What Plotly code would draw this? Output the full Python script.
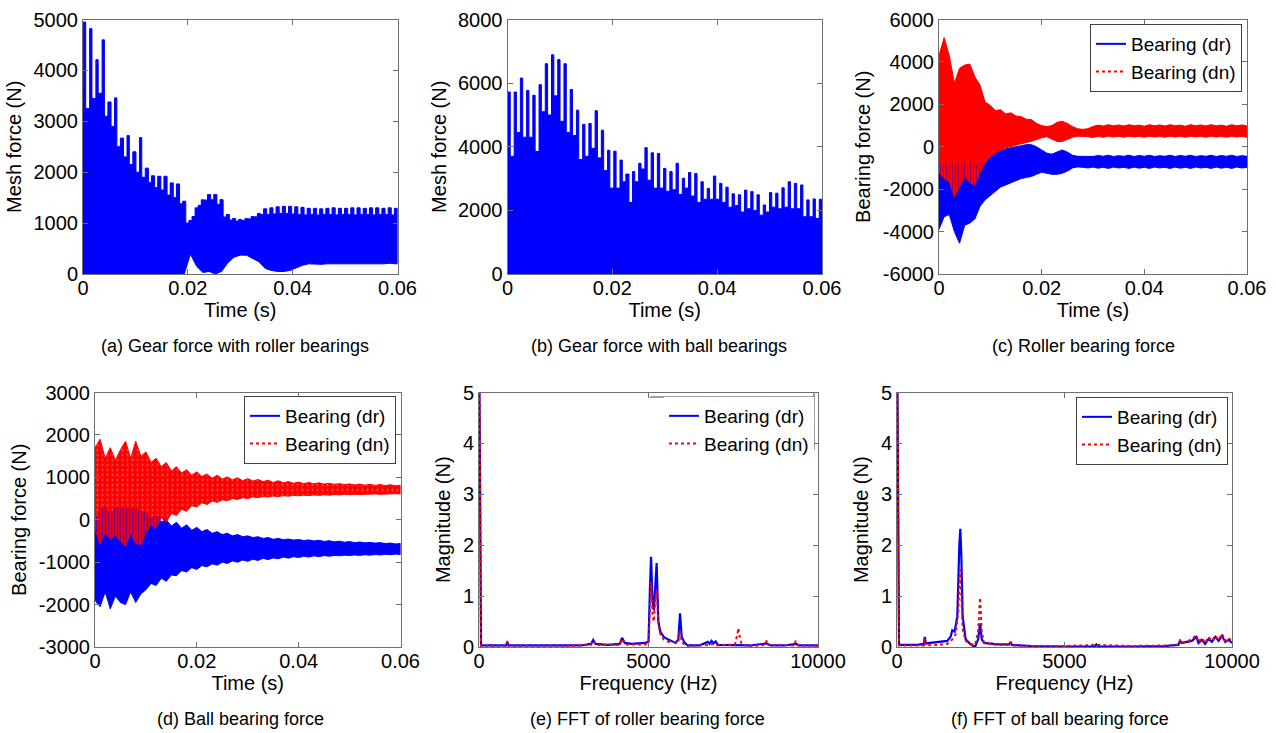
import numpy as np
import plotly.graph_objects as go

W, H = 1276, 733
BLUE = "#0000FF"
RED = "#FF0000"
AX = "#6f6f6f"
FONT = "Liberation Sans, Arial, sans-serif"
T_END = 0.06

# ---------------- gear mesh force (one spike per tooth-pass period) ----------------
SPIKE_T0 = 0.0003      # s, first spike
SPIKE_DT = 0.001188    # s, spike period
NEEDLE_HALF = 0.00022  # s, half width of a tall spike
TOOTH_HALF = 0.0003    # s, half width of a low-amplitude tooth

# (a) roller bearings: spike tops, fill level just before each spike, lower edge
a_peak = [4950, 4820, 4210, 4600, 3380, 3460, 2670, 2720, 2400, 2680,
          2080, 1930, 1920, 1920, 1790, 1770, 1430, 1050, 1300, 1460,
          1560, 1560, 1460, 1170, 1090, 1070, 1090, 1130, 1190, 1280,
          1300, 1320, 1330, 1330, 1320, 1310, 1290, 1290, 1280, 1290,
          1300, 1290, 1290, 1300, 1300, 1290, 1300, 1300, 1290, 1300,
          1290]
a_base = [3650, 3250, 3450, 3550, 3100, 2900, 2500, 2300, 2150, 2000,
          1900, 1800, 1700, 1650, 1550, 1500, 1380, 1000, 1130, 1350,
          1450, 1460, 1370, 1120, 1060, 1040, 1050, 1080, 1120, 1170,
          1170, 1180, 1190, 1190, 1180, 1170, 1160, 1170, 1160, 1170,
          1170, 1160, 1170, 1170, 1160, 1170, 1170, 1160, 1170, 1170,
          1160]
a_low = [0, 0, 0, 0, 0, 0, 0, 0, 0, 0,
         0, 0, 0, 0, 0, 0, 0, 390, 150, 30,
         50, 0, 50, 220, 330, 370, 370, 310, 240, 110,
         70, 50, 50, 70, 120, 170, 200, 200, 190, 200,
         210, 200, 200, 210, 200, 200, 210, 200, 200, 210,
         200]
a_end_hi, a_end_lo = 1170, 200

# (b) ball bearings
b_peak = [5720, 5720, 6160, 5770, 5620, 5950, 6610, 6890, 6740, 6610,
          5800, 5150, 4700, 4730, 5130, 4520, 3890, 3860, 3580, 3140,
          3220, 3480, 3970, 3810, 3790, 3320, 3220, 3480, 3010, 3190,
          3160, 2900, 2690, 3080, 2850, 2730, 2520, 2490, 2640, 2590,
          2490, 2170, 2560, 2540, 2710, 2900, 2850, 2800, 2330, 2360,
          2350]
b_base = [4900, 3700, 4450, 4300, 4300, 3850, 5100, 5000, 5600, 4800,
          4450, 4350, 3600, 3700, 3950, 3650, 3250, 2700, 2700, 2900,
          2250, 2900, 3300, 2950, 2700, 2700, 2600, 2650, 2500, 2700,
          2450, 2250, 2350, 2350, 2350, 2250, 2100, 2150, 1950, 2050,
          2000, 1850, 1950, 2100, 2050, 2100, 2050, 2050, 1800, 1800,
          1750]
b_low = [0] * len(b_peak)
b_end_hi, b_end_lo = 1550, 0

# ---------------- bearing force envelopes, sampled every 1 ms ----------------
ENV_DT = 0.001
# (c) roller bearings
c_dr_hi = [-800, -800, -800, -800, -800, -800, -800, -800, -900, -800,
           -400, -300, -200, -100, -50, 0, 50, 100, 100, 0,
           -150, -300, -350, -250, -150, -250, -400, -450, -450, -430,
           -460, -410, -450, -400, -460, -420, -450, -400, -460, -410,
           -450, -400, -460, -420, -450, -400, -460, -410, -450, -400,
           -460, -420, -450, -400, -460, -410, -450, -400, -460, -420,
           -450]
c_dr_lo = [-3900, -3300, -3200, -4000, -4550, -3700, -3600, -3400, -2800, -2500,
           -2300, -2100, -1900, -1800, -1700, -1600, -1500, -1450, -1400, -1300,
           -1200, -1250, -1300, -1300, -1250, -1150, -1000, -950, -970, -1000,
           -960, -1010, -970, -1020, -960, -1000, -970, -1020, -960, -1010,
           -970, -1020, -960, -1000, -970, -1020, -960, -1010, -970, -1020,
           -960, -1000, -970, -1020, -960, -1010, -970, -1020, -960, -1000,
           -970]
c_dn_hi = [4300, 5150, 4300, 3000, 3700, 3850, 3900, 3300, 2900, 2100,
           1950, 1700, 1750, 1550, 1600, 1450, 1420, 1300, 1280, 1100,
           1000, 950, 1000, 1150, 1200, 1100, 950, 850, 820, 850,
           960, 1020, 980, 1040, 990, 1030, 980, 1040, 990, 1020,
           970, 1040, 990, 1030, 980, 1040, 990, 1020, 970, 1040,
           990, 1030, 980, 1040, 990, 1020, 970, 1040, 990, 1030,
           980]
c_dn_lo = [-1200, -1500, -1650, -2350, -1900, -1400, -1700, -1800, -1200, -750,
           -450, -300, -150, -50, 0, 80, 150, 200, 260, 330,
           420, 470, 350, 250, 250, 350, 450, 500, 480, 470,
           440, 490, 450, 500, 460, 490, 450, 500, 460, 490,
           450, 500, 460, 490, 450, 500, 460, 490, 450, 500,
           460, 490, 450, 500, 460, 490, 450, 500, 460, 490,
           450]
# (d) ball bearings
d_dr_hi = [0, 250, 320, 150, 300, 280, 300, 250, 280, 200,
           180, 50, 100, -50, 0, -150, -60, -200, -120, -250,
           -180, -280, -230, -320, -280, -350, -320, -380, -350, -400,
           -380, -420, -400, -440, -420, -460, -440, -470, -455, -480,
           -465, -490, -475, -500, -485, -510, -495, -520, -505, -530,
           -515, -540, -525, -545, -535, -550, -540, -560, -550, -570,
           -560]
d_dr_lo = [-1900, -2050, -1700, -2100, -1800, -1950, -2000, -1700, -1950, -1750,
           -1650, -1500, -1550, -1380, -1450, -1300, -1320, -1200, -1230, -1130,
           -1170, -1080, -1110, -1040, -1070, -1000, -1030, -970, -1000, -950,
           -980, -930, -960, -910, -940, -900, -920, -880, -905, -870,
           -890, -860, -880, -850, -870, -845, -860, -840, -850, -835,
           -845, -830, -840, -825, -835, -820, -830, -815, -825, -810,
           -820]
d_dn_hi = [1700, 1900, 1450, 1700, 1400, 1650, 1850, 1450, 1850, 1500,
           1600, 1350, 1450, 1250, 1350, 1150, 1250, 1100, 1180, 1050,
           1130, 1020, 1080, 980, 1050, 960, 1010, 940, 990, 920,
           970, 910, 950, 900, 930, 880, 920, 870, 900, 860,
           890, 850, 880, 845, 870, 840, 860, 835, 850, 830,
           845, 820, 840, 815, 835, 810, 830, 805, 825, 800,
           815]
d_dn_lo = [-200, -580, -300, -450, -350, -500, -620, -300, -560, -580,
           -300, -100, -200, 50, -50, 150, 100, 250, 200, 330,
           300, 400, 360, 440, 410, 470, 450, 500, 480, 520,
           500, 540, 520, 550, 535, 560, 545, 570, 555, 575,
           565, 580, 570, 585, 575, 590, 580, 595, 585, 600,
           590, 600, 595, 605, 600, 610, 600, 610, 605, 615,
           610]

# ---------------- FFT spectra (Hz, N) ----------------
e_dr_f = [0, 15, 60, 800, 835, 870, 1700, 3000, 3300, 3370, 3440, 3800, 4150, 4220,
          4300, 4500, 4900, 5000, 5040, 5075, 5120, 5160, 5200, 5240, 5290, 5350,
          5450, 5600, 5800, 5880, 5930, 5980, 6050, 6150, 6500, 6750, 6800, 6860,
          6920, 6980, 7050, 7500, 8000, 8480, 8600, 9000, 9360, 9450, 10000]
e_dr_m = [5.0, 5.0, 0.03, 0.03, 0.10, 0.03, 0.03, 0.03, 0.06, 0.14, 0.06, 0.04, 0.06, 0.18,
          0.08, 0.06, 0.08, 0.10, 1.10, 1.77, 0.90, 0.72, 1.20, 1.65, 0.50, 0.30,
          0.20, 0.14, 0.08, 0.15, 0.66, 0.20, 0.10, 0.03, 0.03, 0.10, 0.06, 0.12,
          0.07, 0.11, 0.04, 0.03, 0.03, 0.07, 0.03, 0.03, 0.06, 0.03, 0.03]
e_dn_f = [0, 15, 60, 800, 835, 870, 2500, 2540, 2580, 3300, 3370, 3440, 4150, 4220,
          4300, 4900, 5000, 5040, 5080, 5120, 5160, 5200, 5240, 5290, 5350, 5450,
          5600, 5880, 5930, 5980, 6100, 6800, 6900, 7000, 7550, 7620, 7650, 7690,
          7750, 8000, 8450, 8490, 8550, 9300, 9340, 9400, 10000]
e_dn_m = [5.0, 5.0, 0.02, 0.02, 0.12, 0.02, 0.02, 0.04, 0.02, 0.04, 0.12, 0.04, 0.04, 0.16,
          0.05, 0.05, 0.08, 0.80, 1.28, 0.60, 0.50, 0.90, 1.12, 0.45, 0.25, 0.15,
          0.10, 0.10, 0.33, 0.10, 0.02, 0.04, 0.06, 0.03, 0.05, 0.25, 0.37, 0.20,
          0.04, 0.02, 0.04, 0.13, 0.04, 0.03, 0.12, 0.03, 0.02]

f_dr_f = [0, 15, 60, 600, 800, 830, 860, 1000, 1300, 1500, 1600, 1650, 1720, 1800,
          1860, 1890, 1920, 1960, 2050, 2200, 2330, 2420, 2480, 2530, 2600, 3000,
          3350, 3390, 3430, 4000, 5000, 5900, 5950, 6000, 7000, 8000, 8400, 8450,
          8500, 8700, 8800, 8940, 9000, 9100, 9200, 9300, 9400, 9500, 9600, 9700,
          9800, 9900, 10000]
f_dr_m = [5.0, 5.0, 0.04, 0.04, 0.06, 0.20, 0.07, 0.08, 0.10, 0.12, 0.20, 0.33, 0.30, 0.60,
          2.00, 2.32, 1.80, 0.60, 0.15, 0.05, 0.00, 0.15, 0.46, 0.15, 0.08, 0.05,
          0.05, 0.10, 0.04, 0.02, 0.01, 0.01, 0.05, 0.01, 0.01, 0.02, 0.04, 0.12,
          0.08, 0.10, 0.12, 0.20, 0.08, 0.14, 0.06, 0.16, 0.10, 0.20, 0.12, 0.22,
          0.10, 0.14, 0.08]
f_dn_f = [0, 15, 60, 600, 800, 830, 860, 1200, 1500, 1650, 1750, 1830, 1880, 1920,
          1960, 2050, 2200, 2330, 2420, 2480, 2530, 2600, 3000, 3360, 3400, 3440,
          4000, 5000, 5950, 7000, 8000, 8400, 8450, 8500, 8700, 8800, 8940, 9000,
          9100, 9200, 9300, 9400, 9500, 9600, 9700, 9800, 9900, 10000]
f_dn_m = [5.0, 5.0, 0.03, 0.03, 0.03, 0.16, 0.03, 0.04, 0.06, 0.15, 0.25, 0.70, 1.52, 1.00,
          0.35, 0.12, 0.06, 0.04, 0.30, 0.97, 0.30, 0.08, 0.04, 0.04, 0.10, 0.03,
          0.02, 0.02, 0.04, 0.02, 0.03, 0.05, 0.14, 0.08, 0.12, 0.16, 0.23, 0.10,
          0.18, 0.08, 0.20, 0.12, 0.22, 0.14, 0.26, 0.12, 0.18, 0.10]

# ---------------- tick labels ----------------
time_ticks = [0, 0.02, 0.04, 0.06]
time_text = ["0", "0.02", "0.04", "0.06"]
freq_ticks = [0, 5000, 10000]
freq_text = ["0", "5000", "10000"]
mag_ticks = [0, 1, 2, 3, 4, 5]


def spiky_band(base, peak, low, end_hi, end_lo):
    """Outline of a densely oscillating signal: spiky upper edge, plain lower edge."""
    t = SPIKE_T0 + SPIKE_DT * np.arange(len(peak))
    xs, ys = [0.0], [base[0]]
    for k in range(len(t)):
        nxt = base[k + 1] if k + 1 < len(t) else end_hi
        hw = NEEDLE_HALF if peak[k] - base[k] > 300 else TOOTH_HALF
        xs += [t[k] - hw, t[k] - hw, t[k] + hw, t[k] + hw]
        ys += [base[k], peak[k], peak[k], nxt]
    xs += [T_END, T_END]
    ys += [end_hi, end_lo]
    for k in reversed(range(len(t))):
        xs.append(t[k])
        ys.append(low[k])
    xs.append(0.0)
    ys.append(low[0])
    return xs, ys


def band(hi, lo):
    t = list(ENV_DT * np.arange(len(hi)))
    return t + t[::-1], list(hi) + list(lo)[::-1]


def overlap_band(hi1, lo1, hi2, lo2):
    """Region where two envelope bands overlap (collapsed to zero height elsewhere)."""
    lo = np.maximum(lo1, lo2)
    hi = np.maximum(np.minimum(hi1, hi2), lo)
    return band(hi, lo)


def px_x(a, b):
    return [a / W, b / W]


def px_y(top, bottom):
    return [1 - bottom / H, 1 - top / H]


fig = go.Figure()


def add_fill(xs, ys, color, ax, pattern=None):
    fig.add_trace(go.Scatter(x=xs, y=ys, mode="lines", fill="toself", fillcolor=color,
                             fillpattern=pattern,
                             line=dict(color=color, width=1),
                             showlegend=False, hoverinfo="skip",
                             xaxis="x" + ax, yaxis="y" + ax))


def add_interleave(xs, ys, ax, blue_share):
    # where both signals overlap, their dense oscillations interleave
    fig.add_trace(go.Scatter(x=xs, y=ys, mode="lines", fill="toself", fillcolor=RED,
                             fillpattern=dict(shape="|", fgcolor=BLUE, bgcolor=RED,
                                              size=3, solidity=blue_share),
                             line=dict(width=0), showlegend=False, hoverinfo="skip",
                             xaxis="x" + ax, yaxis="y" + ax))


# dotted red trace leaves small light gaps inside its band
DOTTED_RED = dict(shape=".", fgcolor="#ffd0d0", bgcolor=RED, size=5, solidity=0.12)

# (a)
add_fill(*spiky_band(a_base, a_peak, a_low, a_end_hi, a_end_lo), BLUE, "")
# (b)
add_fill(*spiky_band(b_base, b_peak, b_low, b_end_hi, b_end_lo), BLUE, "2")
# (c)
add_fill(*band(c_dr_hi, c_dr_lo), BLUE, "3")
add_fill(*band(c_dn_hi, c_dn_lo), RED, "3")
add_interleave(*overlap_band(c_dr_hi, c_dr_lo, c_dn_hi, c_dn_lo), "3", 0.3)
# (d)
add_fill(*band(d_dr_hi, d_dr_lo), BLUE, "4")
add_fill(*band(d_dn_hi, d_dn_lo), RED, "4", pattern=DOTTED_RED)
add_interleave(*overlap_band(d_dr_hi, d_dr_lo, d_dn_hi, d_dn_lo), "4", 0.5)
# (e), (f) spectra
for ax, fdr, mdr, fdn, mdn in [("5", e_dr_f, e_dr_m, e_dn_f, e_dn_m),
                               ("6", f_dr_f, f_dr_m, f_dn_f, f_dn_m)]:
    fig.add_trace(go.Scatter(x=fdr, y=mdr, mode="lines", line=dict(color=BLUE, width=2.2),
                             showlegend=False, hoverinfo="skip", xaxis="x" + ax, yaxis="y" + ax))
    fig.add_trace(go.Scatter(x=fdn, y=mdn, mode="lines", line=dict(color=RED, width=2, dash="dot"),
                             showlegend=False, hoverinfo="skip", xaxis="x" + ax, yaxis="y" + ax))

# legend entries for panels c-f
for ax, leg in [("3", "legend"), ("4", "legend2"), ("5", "legend3"), ("6", "legend4")]:
    fig.add_trace(go.Scatter(x=[None], y=[None], mode="lines", name="Bearing (dr)",
                             line=dict(color=BLUE, width=2), legend=leg,
                             xaxis="x" + ax, yaxis="y" + ax))
    fig.add_trace(go.Scatter(x=[None], y=[None], mode="lines", name="Bearing (dn)",
                             line=dict(color=RED, width=2, dash="dot"), legend=leg,
                             xaxis="x" + ax, yaxis="y" + ax))


def xaxis(domain, rng, tickvals, ticktext, anchor, title):
    return dict(domain=domain, range=rng, tickmode="array", tickvals=tickvals, ticktext=ticktext,
                showline=True, linecolor=AX, linewidth=1, mirror="ticks", ticks="inside",
                ticklen=5, tickcolor=AX, showgrid=False, zeroline=False, anchor=anchor,
                automargin=False, ticklabelstandoff=-4,
                tickfont=dict(family=FONT, size=20, color="black"),
                title=dict(text=title, font=dict(family=FONT, size=20, color="black"), standoff=2),
                fixedrange=True)


def yaxis(domain, rng, tickvals, ticktext, anchor, title):
    d = xaxis(domain, rng, tickvals, ticktext, anchor, title)
    d["ticklabelstandoff"] = 0
    d["title"]["standoff"] = 6
    return d


TOP_ROW = px_y(19.5, 274)
BOT_ROW = px_y(392.5, 647)

y_a = [0, 1000, 2000, 3000, 4000, 5000]
y_b = [0, 2000, 4000, 6000, 8000]
y_c = [-6000, -4000, -2000, 0, 2000, 4000, 6000]
y_d = [-3000, -2000, -1000, 0, 1000, 2000, 3000]

layout = dict(
    width=W, height=H, margin=dict(l=0, r=0, t=0, b=0, autoexpand=False),
    paper_bgcolor="white", plot_bgcolor="white", showlegend=True,
    xaxis=xaxis(px_x(83, 397.5), [0, T_END], time_ticks, time_text, "y", "Time (s)"),
    yaxis=yaxis(TOP_ROW, [0, 5000], y_a, [str(v) for v in y_a], "x", "Mesh force (N)"),
    xaxis2=xaxis(px_x(507.5, 822), [0, T_END], time_ticks, time_text, "y2", "Time (s)"),
    yaxis2=yaxis(TOP_ROW, [0, 8000], y_b, [str(v) for v in y_b], "x2", "Mesh force (N)"),
    xaxis3=xaxis(px_x(939, 1247), [0, T_END], time_ticks, time_text, "y3", "Time (s)"),
    yaxis3=yaxis(TOP_ROW, [-6000, 6000], y_c, [str(v) for v in y_c], "x3", "Bearing force (N)"),
    xaxis4=xaxis(px_x(95, 400.5), [0, T_END], time_ticks, time_text, "y4", "Time (s)"),
    yaxis4=yaxis(BOT_ROW, [-3000, 3000], y_d, [str(v) for v in y_d], "x4", "Bearing force (N)"),
    xaxis5=xaxis(px_x(479, 818), [0, 10000], freq_ticks, freq_text, "y5", "Frequency (Hz)"),
    yaxis5=yaxis(BOT_ROW, [0, 5], mag_ticks, [str(v) for v in mag_ticks], "x5", "Magnitude (N)"),
    xaxis6=xaxis(px_x(897, 1232), [0, 10000], freq_ticks, freq_text, "y6", "Frequency (Hz)"),
    yaxis6=yaxis(BOT_ROW, [0, 5], mag_ticks, [str(v) for v in mag_ticks], "x6", "Magnitude (N)"),
)


def legend_box(right_px, top_px, border=1):
    return dict(x=right_px / W, y=1 - top_px / H, xanchor="right", yanchor="top",
                bgcolor="white", bordercolor="#404040", borderwidth=border,
                font=dict(family=FONT, size=19, color="black"),
                tracegroupgap=0, itemclick=False, itemdoubleclick=False)


layout["legend"] = legend_box(1242, 24)
layout["legend2"] = legend_box(396, 396)
layout["legend3"] = legend_box(814, 397, border=0)
layout["legend4"] = legend_box(1228, 397)
fig.update_layout(**layout)

# partial frame around the legend of panel (e)
for x0, y0, x1, y1 in [(650, 397, 814, 397), (814, 393, 814, 450)]:
    fig.add_shape(type="line", xref="paper", yref="paper",
                  x0=x0 / W, x1=x1 / W, y0=1 - y0 / H, y1=1 - y1 / H,
                  line=dict(color="#404040", width=1))

captions = [
    ("(a) Gear force with roller bearings", 235, 346),
    ("(b) Gear force with ball bearings", 659, 346),
    ("(c) Roller bearing force", 1083, 346),
    ("(d) Ball bearing force", 241, 719),
    ("(e) FFT of roller bearing force", 647, 719),
    ("(f) FFT of ball bearing force", 1060, 719),
]
for text, cx, cy in captions:
    fig.add_annotation(text=text, xref="paper", yref="paper", x=cx / W, y=1 - cy / H,
                       xanchor="center", yanchor="middle", showarrow=False,
                       font=dict(family=FONT, size=18, color="black"))

fig.write_html("out.html")
